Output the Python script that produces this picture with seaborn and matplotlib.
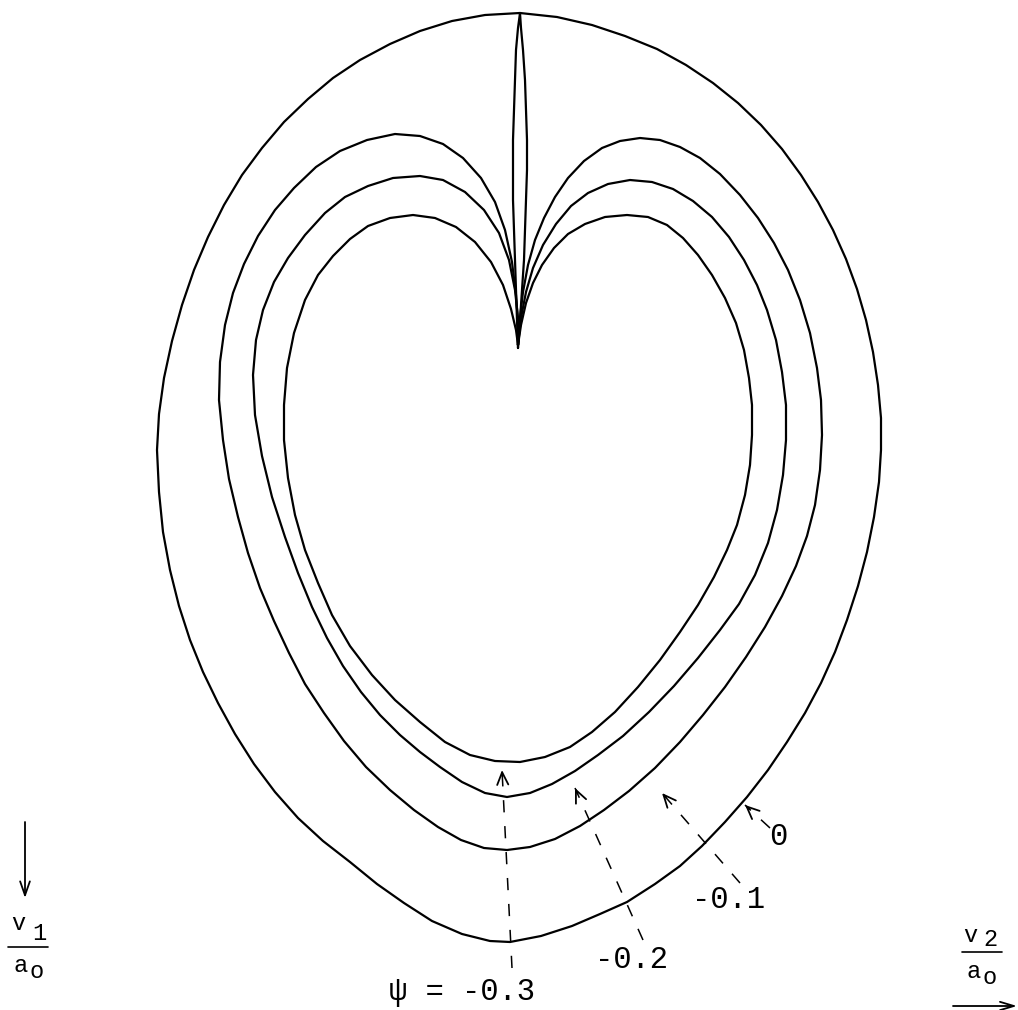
import matplotlib
matplotlib.use("Agg")
import matplotlib.pyplot as plt
import pandas as pd
import seaborn as sns

# Hodograph contours psi = const, traced in the (v2/a0, v1/a0) plane.
# Horizontal axis grows to the right, vertical axis grows downward.

psi_levels = [0.0, -0.1, -0.2, -0.3]

psi_0 = [
    # slender lobe, right edge going up from the cusp
    (518, 348), (520, 320), (522, 290), (524, 260), (525, 230), (526, 200),
    (527, 170), (527, 140), (526, 110), (525, 80), (523, 50), (521, 28),
    (520, 13),
    # outer branch, right half
    (557, 17), (592, 25), (625, 36), (657, 49), (686, 65), (713, 83),
    (738, 103), (761, 125), (782, 149), (801, 175), (818, 202), (833, 230),
    (846, 259), (857, 289), (866, 320), (873, 352), (878, 385), (881, 418),
    (881, 450), (879, 482), (874, 517), (867, 552), (858, 586), (847, 620),
    (835, 652), (821, 683), (805, 713), (787, 742), (768, 770), (747, 797),
    (725, 822), (702, 846), (680, 866), (655, 884), (627, 902), (600, 914),
    (572, 926), (541, 936), (510, 942),
    # outer branch, left half
    (490, 941), (462, 934), (432, 921), (404, 903), (377, 884), (350, 862),
    (323, 841), (298, 818), (275, 792), (254, 764), (235, 734), (218, 703),
    (203, 672), (190, 640), (179, 606), (170, 570), (163, 532), (159, 492),
    (157, 450), (159, 414), (164, 378), (172, 341), (182, 305), (194, 270),
    (208, 237), (224, 205), (242, 175), (262, 148), (284, 122), (308, 99),
    (333, 78), (360, 60), (390, 44), (420, 31), (452, 21), (485, 15),
    (520, 13),
    # slender lobe, left edge going down to the cusp
    (518, 28), (516, 50), (515, 80), (514, 110), (513, 140), (513, 170),
    (513, 200), (514, 230), (515, 260), (516, 290), (517, 320), (518, 348),
]

psi_m01 = [
    (518, 345), (520, 318), (523, 292), (528, 265), (535, 240), (544, 218),
    (555, 197), (568, 178), (584, 161), (602, 148), (620, 141), (640, 138),
    (660, 140), (680, 147), (700, 158), (720, 174), (740, 195), (758, 218),
    (774, 243), (788, 270), (800, 300), (810, 333), (817, 368), (821, 400),
    (822, 435), (820, 470), (815, 505), (807, 536), (796, 566), (782, 596),
    (765, 627), (746, 657), (725, 687), (703, 715), (680, 742), (655, 768),
    (629, 791), (604, 810), (580, 826), (555, 839), (530, 847), (507, 850),
    (484, 848), (461, 840), (438, 827), (414, 810), (390, 790), (366, 767),
    (344, 741), (324, 713), (305, 684), (289, 653), (274, 621), (260, 588),
    (248, 553), (238, 517), (229, 479), (223, 440), (219, 400), (220, 362),
    (225, 325), (233, 293), (244, 264), (258, 236), (275, 210), (294, 188),
    (316, 167), (340, 151), (367, 140), (395, 134), (420, 136), (443, 144),
    (463, 158), (481, 178), (495, 202), (505, 230), (512, 262), (516, 295),
    (518, 322), (518, 345),
]

psi_m02 = [
    (518, 345), (521, 318), (526, 292), (533, 268), (543, 245), (556, 224),
    (571, 206), (588, 193), (608, 184), (630, 180), (652, 182), (673, 189),
    (693, 201), (712, 217), (729, 237), (744, 260), (757, 285), (767, 310),
    (776, 340), (782, 372), (786, 405), (786, 440), (783, 475), (777, 510),
    (768, 543), (755, 575), (739, 604), (720, 630), (698, 658), (674, 686),
    (649, 712), (623, 736), (598, 755), (575, 771), (552, 784), (530, 793),
    (507, 797), (485, 793), (462, 782), (440, 767), (420, 752), (400, 735),
    (380, 715), (361, 692), (343, 666), (327, 638), (312, 607), (298, 573),
    (285, 537), (272, 497), (262, 456), (255, 415), (253, 375), (256, 340),
    (263, 310), (274, 282), (288, 258), (305, 235), (325, 213), (345, 197),
    (368, 186), (393, 178), (420, 176), (443, 180), (465, 192), (484, 210),
    (499, 233), (509, 260), (515, 290), (518, 318), (518, 345),
]

psi_m03 = [
    (518, 345), (521, 325), (526, 303), (533, 283), (542, 265), (554, 248),
    (568, 234), (585, 224), (605, 217), (627, 215), (648, 217), (667, 225),
    (683, 238), (698, 255), (712, 275), (725, 298), (736, 323), (744, 350),
    (749, 378), (752, 405), (752, 435), (750, 465), (745, 495), (737, 525),
    (727, 550), (714, 577), (698, 605), (680, 632), (660, 660), (638, 687),
    (615, 712), (592, 732), (570, 747), (545, 757), (520, 762), (495, 761),
    (470, 755), (445, 742), (420, 722), (395, 700), (372, 675), (350, 646),
    (332, 615), (318, 583), (305, 550), (295, 515), (288, 478), (284, 440),
    (284, 405), (287, 368), (294, 333), (305, 300), (318, 275), (333, 256),
    (350, 239), (368, 226), (390, 218), (413, 215), (435, 218), (456, 227),
    (475, 242), (491, 262), (503, 285), (511, 309), (516, 330), (518, 345),
]

psi_labels = ["0", "-0.1", "-0.2", "\u03c8 = -0.3"]

# ---------------------------------------------------------------- layout
sns.set_style("white")
plt.rcParams["font.family"] = ["Liberation Mono", "DejaVu Sans Mono"]

fig = plt.figure(figsize=(10.18, 10.10), dpi=100)
ax = fig.add_axes([0, 0, 1, 1])

frames = []
for level, pts in zip(psi_levels, [psi_0, psi_m01, psi_m02, psi_m03]):
    frames.append(pd.DataFrame({
        "v2": [p[0] for p in pts],
        "v1": [p[1] for p in pts],
        "psi": level,
    }))
contours = pd.concat(frames, ignore_index=True)

sns.lineplot(data=contours, x="v2", y="v1", units="psi", estimator=None,
             sort=False, color="black", linewidth=1.6, legend=False, ax=ax)
for line in ax.lines:
    line.set_solid_joinstyle("round")

ax.set_xlim(0, 1018)
ax.set_ylim(1010, 0)
ax.set_aspect("auto")
ax.axis("off")

# dashed leaders from each level label to its contour
leaders = [
    ((770, 828), (745, 805)),
    ((740, 883), (662, 793)),
    ((643, 940), (575, 788)),
    ((512, 968), (502, 770)),
]
label_pos = [(778, 837), (729, 900), (632, 960), (462, 992)]

for (tail, tip), text, pos in zip(leaders, psi_labels, label_pos):
    ax.plot([tail[0], tip[0]], [tail[1], tip[1]], color="black", lw=1.1,
            linestyle=(0, (8, 9)))
    dx, dy = tip[0] - tail[0], tip[1] - tail[1]
    n = (dx * dx + dy * dy) ** 0.5
    back = (tip[0] - dx / n * 6, tip[1] - dy / n * 6)
    ax.annotate("", xy=tip, xytext=back,
                arrowprops=dict(arrowstyle="->,head_length=0.9,head_width=0.4",
                                color="black", lw=1.3, shrinkA=0, shrinkB=0))
    ax.text(pos[0], pos[1], text, ha="center", va="center", fontsize=22,
            color="black")

# axis captions: v1/a0 pointing down, v2/a0 pointing right
cap = dict(ha="center", va="center", fontsize=17, color="black")
ax.annotate("", xy=(25, 898), xytext=(25, 822),
            arrowprops=dict(arrowstyle="->,head_length=1.0,head_width=0.35",
                            color="black", lw=1.3, shrinkA=0, shrinkB=0))
ax.text(18, 923, "v", **cap)
ax.text(39, 933, "1", **cap)
ax.plot([8, 48], [947, 947], color="black", lw=1.2)
ax.text(21, 966, "a", **cap)
ax.text(37, 972, "o", **cap)

ax.text(970, 936, "v", **cap)
ax.text(990, 939, "2", **cap)
ax.plot([962, 1002], [952, 952], color="black", lw=1.2)
ax.text(974, 971, "a", **cap)
ax.text(990, 977, "o", **cap)
ax.annotate("", xy=(1017, 1006), xytext=(953, 1006),
            arrowprops=dict(arrowstyle="->,head_length=1.0,head_width=0.3",
                            color="black", lw=1.3, shrinkA=0, shrinkB=0))

fig.savefig("out.png", dpi=100, facecolor="white")
